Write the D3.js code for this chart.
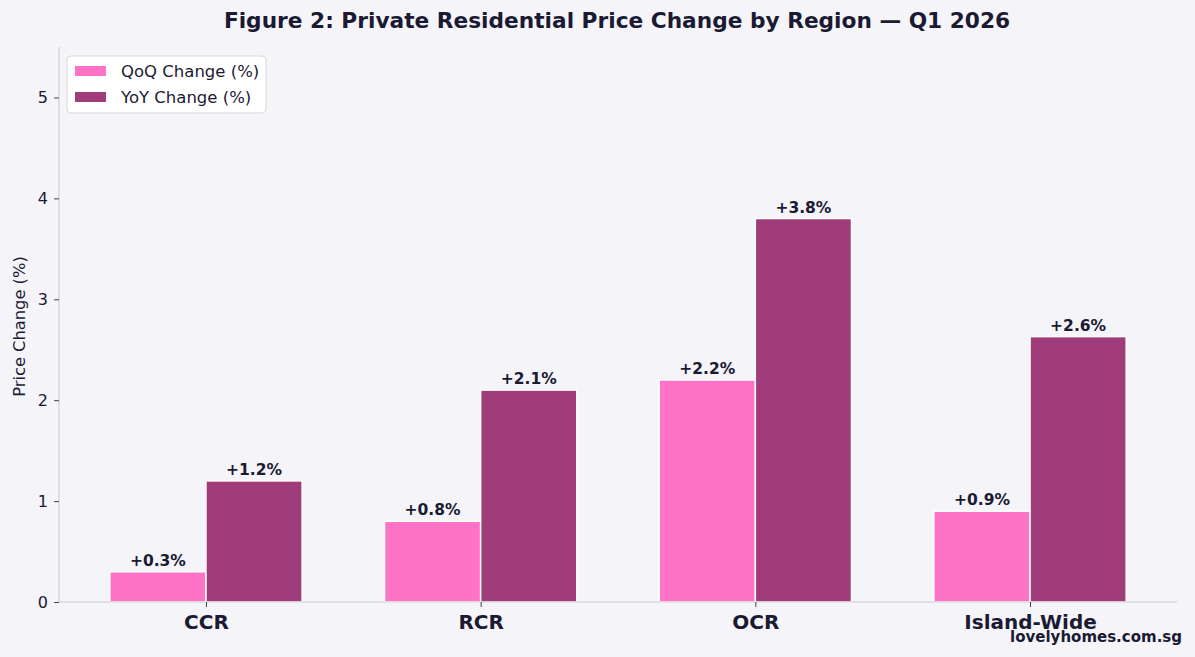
<!DOCTYPE html>
<html><head><meta charset="utf-8">
<script src="https://cdn.jsdelivr.net/npm/d3@7"></script>
<style>
html,body{margin:0;padding:0;background:#f4f4f9;}
svg{display:block;font-family:"DejaVu Sans",sans-serif;}
</style></head><body>
<svg id="chart" width="1195" height="657"></svg>
<script>
const categories = ["CCR", "RCR", "OCR", "Island-Wide"];
const seriesNames = ["QoQ Change (%)", "YoY Change (%)"];
const qoqValues = [0.3, 0.8, 2.2, 0.9];
const yoyValues = [1.2, 2.1, 3.8, 2.63];
const yTicks = [0, 1, 2, 3, 4, 5];
const colors = ["#ff73c6", "#a03c79"];

(function () {
const svg = d3.select("#chart");
const W = 1195, H = 657;
const mLeft = 59, mRight = 1177, mTop = 47, mBottom = 602;
const textColor = "#1b1a33";

svg.append("rect").attr("width", W).attr("height", H).attr("fill", "#f4f4f9");

const barW = 0.35;
const x = d3.scaleLinear().domain([-0.535, 3.535]).range([mLeft, mRight]);
const y = d3.scaleLinear().domain([0, 5.5]).range([mBottom, mTop]);

// Title
svg.append("text").attr("x", 617).attr("y", 28).attr("text-anchor", "middle")
  .attr("font-size", 21.7).attr("font-weight", "bold").attr("fill", textColor)
  .text("Figure 2: Private Residential Price Change by Region \u2014 Q1 2026");

// Bars
const series = [qoqValues, yoyValues];
series.forEach((vals, si) => {
  const off = si === 0 ? -barW / 2 : barW / 2;
  const g = svg.append("g");
  g.selectAll("rect").data(vals).enter().append("rect")
    .attr("x", (d, i) => x(i + off - barW / 2))
    .attr("width", x(barW) - x(0))
    .attr("y", d => y(d))
    .attr("height", d => y(0) - y(d))
    .attr("fill", colors[si])
    .attr("stroke", "#ffffff").attr("stroke-width", 1.5);
  g.selectAll("text").data(vals).enter().append("text")
    .attr("x", (d, i) => x(i + off))
    .attr("y", d => y(d) - 6)
    .attr("text-anchor", "middle")
    .attr("font-size", 15.5).attr("font-weight", "bold").attr("fill", textColor)
    .text(d => "+" + d.toFixed(1) + "%");
});

// Y axis
const yAxis = svg.append("g").attr("transform", `translate(${mLeft},0)`)
  .call(d3.axisLeft(y).tickValues(yTicks).tickSize(5).tickPadding(6).tickFormat(d3.format("d")));
yAxis.select(".domain").attr("stroke", "#cccccc").attr("d", `M0,${mBottom}V${mTop}`);
yAxis.selectAll(".tick line").attr("stroke", "#444444");
yAxis.selectAll(".tick text").attr("font-size", 16).attr("fill", textColor)
  .attr("font-family", "DejaVu Sans");

// X axis
const xAxis = svg.append("g").attr("transform", `translate(0,${mBottom})`)
  .call(d3.axisBottom(x).tickValues(d3.range(categories.length)).tickSize(5).tickPadding(8)
    .tickFormat(i => categories[i]));
xAxis.select(".domain").attr("stroke", "#cccccc").attr("d", `M${mLeft},0H${mRight}`);
xAxis.selectAll(".tick line").attr("stroke", "#444444");
xAxis.selectAll(".tick text").attr("font-size", 20).attr("font-weight", "bold")
  .attr("fill", textColor).attr("font-family", "DejaVu Sans");

// Y label
svg.append("text").attr("transform", `translate(25,${(mTop + mBottom) / 2 + 2}) rotate(-90)`)
  .attr("text-anchor", "middle").attr("font-size", 16.3).attr("fill", textColor)
  .text("Price Change (%)");

// Legend
const lg = svg.append("g").attr("transform", "translate(67,56)");
lg.append("rect").attr("width", 199).attr("height", 57).attr("rx", 4)
  .attr("fill", "#ffffff").attr("stroke", "#d8d8d8");
seriesNames.forEach((name, i) => {
  lg.append("rect").attr("x", 8).attr("y", 10 + i * 26).attr("width", 31).attr("height", 10)
    .attr("fill", colors[i]);
  lg.append("text").attr("x", 54).attr("y", 21 + i * 26).attr("font-size", 16.5)
    .attr("fill", textColor).text(name);
});

// Watermark
svg.append("text").attr("x", 1182).attr("y", 642).attr("text-anchor", "end")
  .attr("font-size", 15).attr("font-weight", "bold").attr("fill", textColor)
  .text("lovelyhomes.com.sg");
})();
</script>
</body></html>
